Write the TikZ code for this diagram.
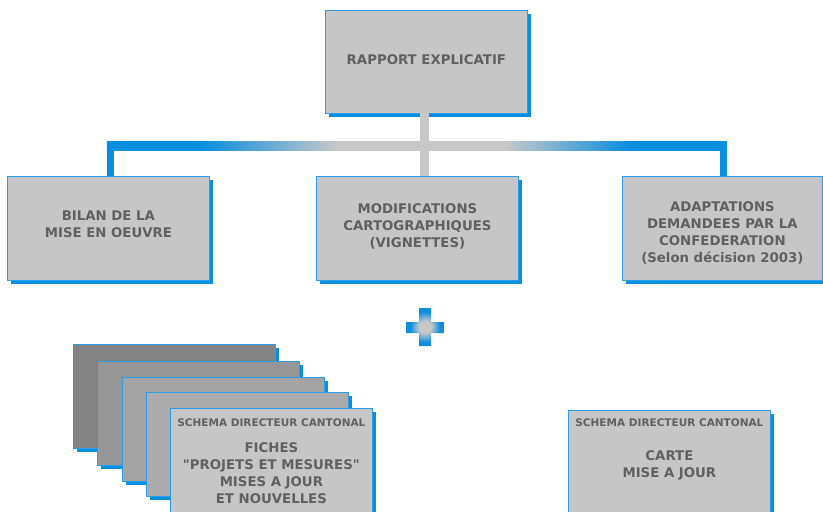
\documentclass[tikz,border=0pt]{standalone}
\usepackage{fontspec}
\setmainfont{DejaVu Sans}[Ligatures=TeXOff]
\usetikzlibrary{calc}
\definecolor{blueC}{HTML}{0A8EE0}
\definecolor{bordC}{HTML}{2A9CE8}
\definecolor{boxC}{HTML}{C6C6C6}
\definecolor{grayC}{HTML}{C8C8C8}
\definecolor{txtC}{HTML}{606060}
\definecolor{cardA}{HTML}{838383}
\definecolor{cardB}{HTML}{969696}
\definecolor{cardC}{HTML}{A3A3A3}
\definecolor{cardD}{HTML}{ABABAB}
\pgfdeclarehorizontalshading{barshade}{100bp}{color(0bp)=(blueC); color(32.7bp)=(blueC); color(43.7bp)=(grayC); color(57.1bp)=(grayC); color(67.1bp)=(blueC); color(100bp)=(blueC)}
\pgfdeclareradialshading{plusshade}{\pgfpoint{0bp}{0bp}}{color(0bp)=(grayC); color(8bp)=(grayC); color(20bp)=(blueC); color(50bp)=(blueC)}
\tikzset{
  boxbase/.style={draw=bordC, line width=0.8pt, minimum width=202pt, minimum height=104pt,
    inner sep=0pt, anchor=north west,
    preaction={fill=blueC, transform canvas={shift={(3.5pt,-3.5pt)}}}},
  box/.style={boxbase, fill=boxC},
  card/.style={boxbase, fill=#1},
  txt/.style={text=txtC, align=center, inner sep=0pt, font=\fontsize{13.3}{17}\selectfont\bfseries},
  hdr/.style={text=txtC, inner sep=0pt, font=\fontsize{10.5}{12}\selectfont\bfseries},
  vbar/.style={draw=blueC, line width=7pt},
  stem/.style={draw=grayC, line width=9pt}
}
\begin{document}
\begin{tikzpicture}[x=1pt,y=-1pt]
\useasboundingbox (0,0) rectangle (823,512);
\clip (0,0) rectangle (823,512);
% top
\node[box, minimum height=103pt] (T) at (325,10) {};
\node[txt] (Tt) at ([yshift=2.5pt]T.center) {RAPPORT EXPLICATIF};
% middle row
\node[box] (L) at (7,176) {};
\node[txt] (Lt) at ([yshift=4.5pt]L.center) {BILAN DE LA\\MISE EN OEUVRE};
\node[box] (M) at (316,176) {};
\node[txt] (Mt) at ([yshift=1.6pt]M.center) {MODIFICATIONS\\CARTOGRAPHIQUES\\(VIGNETTES)};
\node[box, minimum width=200pt] (R) at (622,176) {};
\node[txt] (Rt) at ([yshift=-4.5pt]R.center) {ADAPTATIONS\\DEMANDEES PAR LA\\CONFEDERATION\\(Selon décision 2003)};
% connectors
\coordinate (hub) at (424.5,145.5);
\coordinate (Lc) at ([xshift=2pt]L.north);
\coordinate (Rc) at ([xshift=1pt]R.north);
\draw[vbar] (Lc) -- ([yshift=4.5pt]Lc |- hub);
\draw[vbar] (Rc) -- ([yshift=4.5pt]Rc |- hub);
\shade[shading=barshade] ($(Lc |- hub)+(-3.5,-4.5)$) rectangle ($(Rc |- hub)+(3.5,4.5)$);
\draw[stem] ([yshift=0.4pt]hub |- T.south) -- ([yshift=-0.4pt]hub |- M.north);
% plus
\shade[shading=plusshade] (419,308) -- (431,308) -- (431,322) -- (444,322) -- (444,333)
  -- (431,333) -- (431,346) -- (419,346) -- (419,333) -- (406,333) -- (406,322)
  -- (419,322) -- cycle;
% stacked cards
\node[card=cardA] (F1) at (73,344) {};
\node[card=cardB] (F2) at (97,361) {};
\node[card=cardC] (F3) at (122,377) {};
\node[card=cardD] (F4) at (146,392) {};
\node[card=boxC] (F5) at (170,408) {};
\node[hdr] (F5h) at ([yshift=-15pt]F5.north) {SCHEMA DIRECTEUR CANTONAL};
\node[txt] (F5b) at ([yshift=-65pt]F5.north) {FICHES\\"PROJETS ET MESURES"\\MISES A JOUR\\ET NOUVELLES};
% right card
\node[card=boxC] (C) at (568,410) {};
\node[hdr] (Ch) at ([yshift=-13pt]C.north) {SCHEMA DIRECTEUR CANTONAL};
\node[txt] (Cb) at ([yshift=-55pt]C.north) {CARTE\\MISE A JOUR};
\end{tikzpicture}
\end{document}
